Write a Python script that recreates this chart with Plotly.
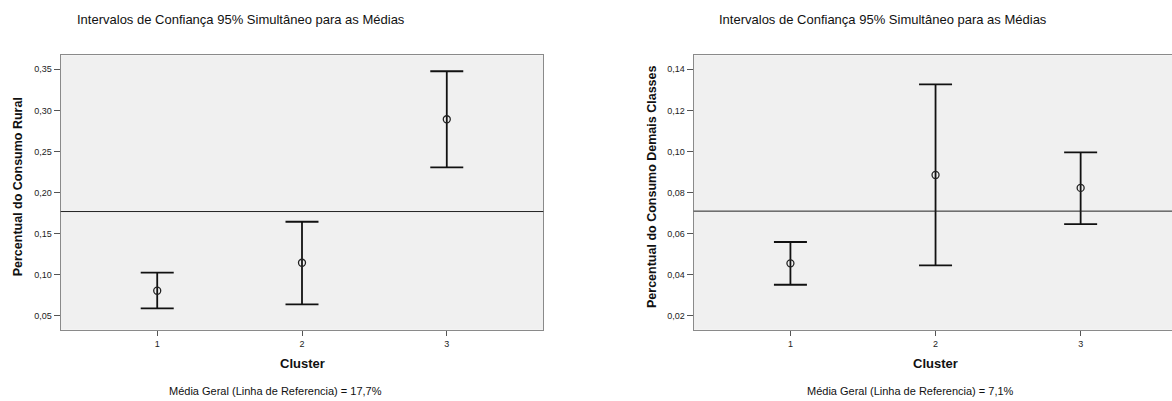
import plotly.graph_objects as go

# Cluster categories
clusters = [1, 2, 3]

# Panel 1: Percentual do Consumo Rural
rural_mean = [0.0807, 0.1147, 0.2892]
rural_low = [0.0592, 0.0641, 0.2308]
rural_high = [0.1026, 0.1646, 0.3476]
rural_ref = 0.177

# Panel 2: Percentual do Consumo Demais Classes
demais_mean = [0.0456, 0.0886, 0.0823]
demais_low = [0.0352, 0.0446, 0.0647]
demais_high = [0.0560, 0.1327, 0.0996]
demais_ref = 0.071

y_ticks_rural = [0.05, 0.10, 0.15, 0.20, 0.25, 0.30, 0.35]
y_ticks_demais = [0.02, 0.04, 0.06, 0.08, 0.10, 0.12, 0.14]

W, H = 1172, 401
FONT = "Liberation Sans, Arial, sans-serif"


def px(x):
    return x / W


def py(y):
    return 1 - y / H


fig = go.Figure()


def add_panel(idx, mean, low, high):
    xa = "x" if idx == 1 else "x2"
    ya = "y" if idx == 1 else "y2"
    fig.add_trace(go.Scatter(
        x=clusters, y=mean, xaxis=xa, yaxis=ya, mode="markers",
        marker=dict(symbol="circle-open", size=7, color="#222",
                    line=dict(width=1.3, color="#222")),
        error_y=dict(type="data", symmetric=False,
                     array=[h - m for h, m in zip(high, mean)],
                     arrayminus=[m - l for m, l in zip(mean, low)],
                     color="#111", thickness=1.8, width=16.5),
        showlegend=False, hoverinfo="skip"))


add_panel(1, rural_mean, rural_low, rural_high)
add_panel(2, demais_mean, demais_low, demais_high)

axis_common = dict(
    showgrid=False, zeroline=False, showline=True, linecolor="#8a8a8a",
    linewidth=1.2, ticks="outside", tickcolor="#555", ticklen=5,
    tickfont=dict(family=FONT, size=9, color="#222"),
)

y_dom = [py(329.7), py(55.3)]
fig.update_layout(
    width=W, height=H, margin=dict(l=0, r=0, t=0, b=0),
    paper_bgcolor="white", plot_bgcolor="#f0f0f0",
    separators=",.",
    xaxis=dict(domain=[px(60.7), px(543.3)], range=[1/3, 3 + 2/3],
               tickvals=clusters, mirror=True, anchor="y", **axis_common),
    yaxis=dict(domain=y_dom, range=[0.0333, 0.367], tickvals=y_ticks_rural,
               tickformat=".2f", mirror=True, anchor="x", ticklen=6,
               **{k: v for k, v in axis_common.items() if k != "ticklen"}),
    xaxis2=dict(domain=[px(693.7), 1.0],
                range=[1/3, 3 + (1172 - 1080.7) / 145],
                tickvals=clusters, mirror=True, anchor="y2", **axis_common),
    yaxis2=dict(domain=y_dom, range=[0.01333, 0.1468], tickvals=y_ticks_demais,
                tickformat=".2f", mirror=False, anchor="x2", ticklen=6,
                **{k: v for k, v in axis_common.items() if k != "ticklen"}),
)

# Overall-mean reference lines
for xa, ya, ref in [("x", "y", rural_ref), ("x2", "y2", demais_ref)]:
    fig.add_shape(type="line", xref=f"{xa} domain", yref=ya,
                  x0=0, x1=1, y0=ref, y1=ref,
                  line=dict(color="#222", width=1))

texts = [
    # titles
    (241, 19, "Intervalos de Confiança 95% Simultâneo para as Médias", 13, 0),
    (883, 19, "Intervalos de Confiança 95% Simultâneo para as Médias", 13, 0),
    # x axis titles
    (302.5, 363, "<b>Cluster</b>", 13, 0),
    (935.8, 363, "<b>Cluster</b>", 13, 0),
    # y axis titles
    (18.3, 187, "<b>Percentual do Consumo Rural</b>", 12.5, -90),
    (652, 187, "<b>Percentual do Consumo Demais Classes</b>", 12.5, -90),
    # footnotes
    (275.8, 391, "Média Geral (Linha de Referencia) = 17,7%", 11, 0),
    (910, 391, "Média Geral (Linha de Referencia) = 7,1%", 11, 0),
]
for x, y, t, size, ang in texts:
    fig.add_annotation(x=px(x), y=py(y), xref="paper", yref="paper",
                       text=t, showarrow=False, textangle=ang,
                       xanchor="center", yanchor="middle",
                       font=dict(family=FONT, size=size, color="#111"))

fig.write_html("out.html")
